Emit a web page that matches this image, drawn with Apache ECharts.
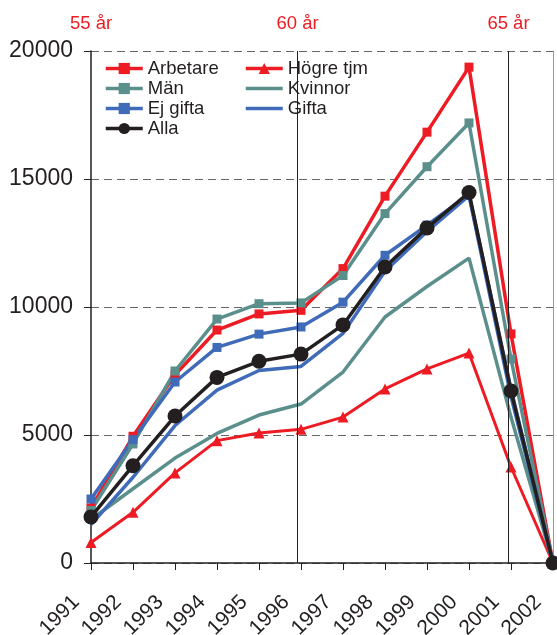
<!DOCTYPE html>
<html>
<head>
<meta charset="utf-8">
<script src="https://cdn.jsdelivr.net/npm/echarts@6/dist/echarts.min.js"></script>
<style>
  html, body { margin: 0; padding: 0; background: #fff; }
  #chart { width: 557px; height: 635px; }
</style>
</head>
<body>
<div id="chart"></div>
<script>
// Years on the horizontal axis
var years = [1991, 1992, 1993, 1994, 1995, 1996, 1997, 1998, 1999, 2000, 2001, 2002];

// Values per group
var arbetare = [2150, 4950, 7350, 9100, 9730, 9870, 11500, 14330, 16830, 19370, 8950, 0];
var hogreTjm = [800, 1980, 3520, 4780, 5080, 5220, 5700, 6800, 7580, 8200, 3750, 0];
var man      = [2050, 4650, 7500, 9530, 10130, 10160, 11230, 13650, 15480, 17190, 7970, 0];
var kvinnor  = [1700, 2900, 4100, 5060, 5780, 6210, 7460, 9610, 10800, 11910, 5700, 0];
var ejGifta  = [2500, 4820, 7070, 8420, 8940, 9220, 10190, 12020, 13200, 14400, 6800, 0];
var gifta    = [1500, 3350, 5370, 6750, 7520, 7680, 8970, 11400, 12950, 14350, 6500, 0];
var alla     = [1800, 3800, 5740, 7250, 7880, 8160, 9300, 11560, 13090, 14470, 6720, 0];

// Age markers above the plot and where they sit on the year axis
var ageLabels = ['55 år', '60 år', '65 år'];
var agePositions = [1991, 1995.92, 2000.94];

// Value axis ticks
var yTicks = [0, 5000, 10000, 15000, 20000];

var RED = '#ed1c24', TEAL = '#5b8f8b', BLUE = '#3f6bb8', BLACK = '#231f20';
var FONT = 'Liberation Sans, Arial, sans-serif';

function pairs(vals) {
  return years.map(function (y, i) { return [y, vals[i]]; });
}

function lineSeries(name, vals, color, symbol, size, width, z) {
  return {
    name: name,
    type: 'line',
    data: pairs(vals),
    color: color,
    symbol: symbol,
    symbolSize: size,
    showSymbol: symbol !== 'none',
    lineStyle: { color: color, width: width },
    itemStyle: { color: color },
    z: z,
    animation: false
  };
}

var series = [
  lineSeries('Arbetare', arbetare, RED, 'rect', 9, 3.5, 2),
  lineSeries('Högre tjm', hogreTjm, RED, 'triangle', 11, 3, 2),
  lineSeries('Män', man, TEAL, 'rect', 9, 3.5, 2),
  lineSeries('Kvinnor', kvinnor, TEAL, 'none', 0, 3.5, 2),
  lineSeries('Ej gifta', ejGifta, BLUE, 'rect', 9, 3.5, 2),
  lineSeries('Gifta', gifta, BLUE, 'none', 0, 3.5, 2),
  lineSeries('Alla', alla, BLACK, 'circle', 15, 3.5, 3)
];

// Vertical age lines with their labels on top (the first one sits on the y axis)
series[0].markLine = {
  silent: true,
  symbol: 'none',
  animation: false,
  data: agePositions.map(function (x, i) {
    return {
      xAxis: x,
      lineStyle: { color: i === 0 ? 'transparent' : BLACK, width: 1, type: 'solid' },
      label: {
        show: true, position: 'end', formatter: ageLabels[i], color: RED,
        fontSize: 18.5, fontFamily: FONT, distance: 18
      }
    };
  })
};

var legendCommon = {
  orient: 'vertical',
  itemWidth: 37,
  itemHeight: 14,
  itemGap: 1,
  padding: 0,
  lineStyle: { width: 3.5 },
  textStyle: { fontSize: 18.5, fontFamily: FONT, color: BLACK },
  selectedMode: false
};

// Line-only entries get no marker in the legend
function legendItem(name, markerless) {
  return markerless ? { name: name, itemStyle: { opacity: 0 } } : { name: name };
}

var option = {
  backgroundColor: '#fff',
  animation: false,
  grid: { left: 91, right: 4, top: 51, bottom: 72, containLabel: false, outerBoundsMode: 'none' },
  legend: [
    Object.assign({ left: 104, top: 59, data: [
      legendItem('Arbetare'), legendItem('Män'), legendItem('Ej gifta'), legendItem('Alla')
    ] }, legendCommon),
    Object.assign({ left: 244, top: 59, data: [
      legendItem('Högre tjm'), legendItem('Kvinnor', true), legendItem('Gifta', true)
    ] }, legendCommon)
  ],
  xAxis: {
    type: 'value',
    min: years[0],
    max: years[years.length - 1],
    interval: 1,
    axisLine: { show: true, lineStyle: { color: BLACK, width: 1.5 } },
    axisTick: { show: true, length: 7, lineStyle: { color: BLACK, width: 1 } },
    splitLine: { show: false },
    axisLabel: {
      rotate: 45, margin: 21, padding: [0, 21, 0, 0],
      fontSize: 21, fontFamily: FONT, color: BLACK,
      formatter: function (v) { return String(v); }
    }
  },
  yAxis: [
    {
      type: 'value',
      min: yTicks[0],
      max: yTicks[yTicks.length - 1],
      interval: yTicks[1] - yTicks[0],
      axisLine: { show: true, lineStyle: { color: BLACK, width: 1.5 } },
      axisTick: { show: true, length: 7, lineStyle: { color: BLACK, width: 1 } },
      splitLine: { show: true, lineStyle: { color: '#666', width: 1, type: [8, 5] } },
      axisLabel: {
        margin: 18, fontSize: 23, fontFamily: FONT, color: BLACK,
        formatter: function (v) { return String(v); }
      }
    },
    {
      type: 'value',
      position: 'right',
      min: yTicks[0],
      max: yTicks[yTicks.length - 1],
      interval: yTicks[1] - yTicks[0],
      axisLine: { show: true, lineStyle: { color: '#999', width: 1 } },
      axisTick: { show: false },
      axisLabel: { show: false },
      splitLine: { show: false }
    }
  ],
  series: series
};

var chart = echarts.init(document.getElementById('chart'), null, { renderer: 'canvas' });
chart.setOption(option);
</script>
</body>
</html>
